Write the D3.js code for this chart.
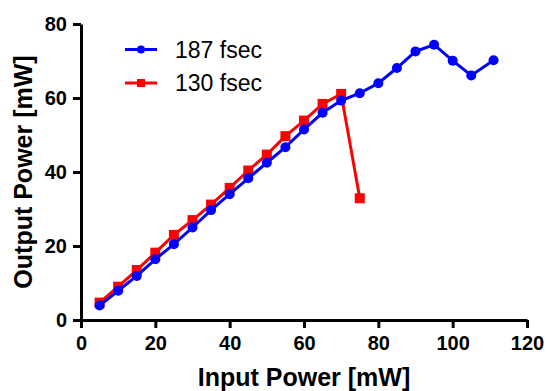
<!DOCTYPE html>
<html>
<head>
<meta charset="utf-8">
<script src="https://cdn.jsdelivr.net/npm/d3@7"></script>
<style>
  body { margin: 0; background: #fff; }
  text { font-family: "Liberation Sans", Arial, sans-serif; }
</style>
</head>
<body>
<div id="chart"></div>
<script>
// input power [mW] and output power [mW]
var blueX = [5, 10, 15, 20, 25, 30, 35, 40, 45, 50, 55, 60, 65, 70, 75, 80, 85, 90, 95, 100, 105, 111];
var blueY = [3.9, 7.9, 11.9, 16.4, 20.5, 25.0, 29.7, 34.0, 38.3, 42.5, 46.7, 51.5, 56.0, 59.3, 61.3, 64.0, 68.1, 72.6, 74.4, 70.1, 66.1, 70.2];
var redX = [5, 10, 15, 20, 25, 30, 35, 40, 45, 50, 55, 60, 65, 70, 75];
var redY = [4.7, 9.0, 13.5, 18.2, 23.0, 27.0, 31.2, 35.7, 40.4, 44.7, 49.7, 53.9, 58.4, 61.1, 32.9];
var seriesNames = ["187 fsec", "130 fsec"];
var xTicks = [0, 20, 40, 60, 80, 100, 120];
var yTicks = [0, 20, 40, 60, 80];

var svgWidth = 547;
var svgHeight = 391;
var margin = { top: 24, right: 20, bottom: 71, left: 81 };
var chartWidth = 527 - margin.left;
var chartHeight = 320 - margin.top;

var svg = d3.select("#chart")
  .append("svg")
  .attr("width", svgWidth)
  .attr("height", svgHeight);

var g = svg.append("g")
  .attr("transform", `translate(${margin.left}, ${margin.top})`);

var x = d3.scaleLinear().domain([0, 120]).range([0, chartWidth]);
var y = d3.scaleLinear().domain([0, 80]).range([chartHeight, 0]);

// axes
var xAxis = g.append("g")
  .attr("transform", `translate(0, ${chartHeight})`)
  .call(d3.axisBottom(x).tickValues(xTicks).tickSize(8).tickSizeOuter(0).tickPadding(8));
var yAxis = g.append("g")
  .call(d3.axisLeft(y).tickValues(yTicks).tickSize(8).tickSizeOuter(0).tickPadding(6));

[xAxis, yAxis].forEach(function(a) {
  a.select(".domain").attr("stroke", "#000").attr("stroke-width", 3);
  a.selectAll(".tick line").attr("stroke", "#000").attr("stroke-width", 3);
  a.selectAll(".tick text")
    .attr("fill", "#000")
    .style("font-size", "20px")
    .style("font-weight", "bold")
    .style("font-family", "'Liberation Sans', Arial, sans-serif");
});

// axis titles
svg.append("text")
  .attr("x", margin.left + chartWidth / 2)
  .attr("y", 386)
  .attr("text-anchor", "middle")
  .style("font-size", "25px")
  .style("font-weight", "bold")
  .text("Input Power [mW]");

svg.append("text")
  .attr("transform", `translate(32, ${margin.top + chartHeight / 2}) rotate(-90)`)
  .attr("text-anchor", "middle")
  .style("font-size", "25px")
  .style("font-weight", "bold")
  .text("Output Power [mW]");

var line = d3.line()
  .x(d => x(d[0]))
  .y(d => y(d[1]));

var redData = redX.map((v, i) => [v, redY[i]]);
var blueData = blueX.map((v, i) => [v, blueY[i]]);

// red series (130 fsec)
g.append("path")
  .datum(redData)
  .attr("fill", "none")
  .attr("stroke", "#ff0000")
  .attr("stroke-width", 3)
  .attr("d", line);
g.selectAll(".sq")
  .data(redData)
  .enter()
  .append("rect")
  .attr("class", "sq")
  .attr("x", d => x(d[0]) - 5)
  .attr("y", d => y(d[1]) - 5)
  .attr("width", 10)
  .attr("height", 10)
  .attr("fill", "#ff0000");

// blue series (187 fsec)
g.append("path")
  .datum(blueData)
  .attr("fill", "none")
  .attr("stroke", "#0000ff")
  .attr("stroke-width", 3)
  .attr("d", line);
g.selectAll(".dot")
  .data(blueData)
  .enter()
  .append("circle")
  .attr("class", "dot")
  .attr("cx", d => x(d[0]))
  .attr("cy", d => y(d[1]))
  .attr("r", 5)
  .attr("fill", "#0000ff");

// legend
var legend = svg.append("g");
var colors = ["#0000ff", "#ff0000"];
seriesNames.forEach(function(name, i) {
  var ly = 49.5 + i * 33.5;
  legend.append("line")
    .attr("x1", 125).attr("x2", 157)
    .attr("y1", ly).attr("y2", ly)
    .attr("stroke", colors[i])
    .attr("stroke-width", 3);
  if (i == 0) {
    legend.append("circle").attr("cx", 141).attr("cy", ly).attr("r", 4).attr("fill", colors[i]);
  } else {
    legend.append("rect").attr("x", 137).attr("y", ly - 4).attr("width", 8).attr("height", 8).attr("fill", colors[i]);
  }
  legend.append("text")
    .attr("x", 175)
    .attr("y", ly + 8)
    .style("font-size", "23px")
    .text(name);
});
</script>
</body>
</html>
